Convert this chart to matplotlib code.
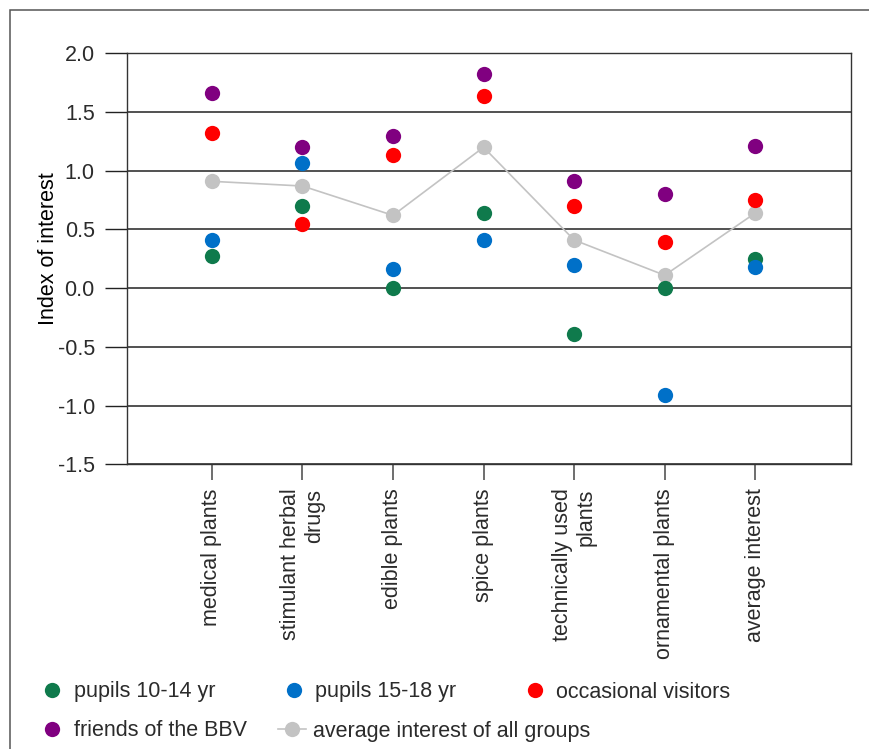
import numpy as np
import matplotlib
matplotlib.use('Agg')
import matplotlib.pyplot as plt
from matplotlib.lines import Line2D
from matplotlib.patches import Rectangle

plt.rcParams['font.family'] = ['Liberation Sans', 'DejaVu Sans']
plt.rcParams['font.size'] = 15.5
plt.rcParams['text.color'] = '#2b2b2b'

# data
categories = ['medical plants', 'stimulant herbal\ndrugs', 'edible plants', 'spice plants',
              'technically used\nplants', 'ornamental plants', 'average interest']
pupils_10_14 = [0.27, 0.70, 0.00, 0.64, -0.39, 0.00, 0.25]
pupils_15_18 = [0.41, 1.07, 0.16, 0.41, 0.20, -0.91, 0.18]
occasional = [1.32, 0.55, 1.13, 1.64, 0.70, 0.39, 0.75]
friends_bbv = [1.66, 1.20, 1.30, 1.82, 0.91, 0.80, 1.21]
avg_all = [0.91, 0.87, 0.62, 1.20, 0.41, 0.11, 0.64]

c_green = '#0f7a4c'
c_blue = '#0070c8'
c_red = '#ff0000'
c_purple = '#800080'
c_gray = '#c3c3c3'

x = np.arange(1, len(categories) + 1)

fig = plt.figure(figsize=(8.69, 7.49), dpi=100)
ax = fig.add_axes([0.1458, 0.3801, 0.8335, 0.5487])

ms = 11
ax.plot(x, avg_all, '-o', color=c_gray, lw=1.2, ms=ms, mew=0, zorder=3)
ax.plot(x, pupils_10_14, 'o', color=c_green, ms=ms, mew=0, zorder=4)
ax.plot(x, pupils_15_18, 'o', color=c_blue, ms=ms, mew=0, zorder=5)
ax.plot(x, occasional, 'o', color=c_red, ms=ms, mew=0, zorder=6)
ax.plot(x, friends_bbv, 'o', color=c_purple, ms=ms, mew=0, zorder=7)

ax.set_xlim(0.06, 8.057)
ax.set_ylim(-1.5, 2.0)
ax.set_yticks(np.arange(-1.5, 2.01, 0.5))
ax.set_yticklabels(['%.1f' % v for v in np.arange(-1.5, 2.01, 0.5)])
ax.yaxis.grid(True, color='#222222', lw=1.1)
ax.set_axisbelow(True)
ax.set_xticks(x)
ax.set_xticklabels(categories, rotation=90, multialignment='right')

for s in ax.spines.values():
    s.set_color('#333333')
    s.set_linewidth(1.0)

ax.tick_params(axis='y', direction='out', length=16, width=1.0, color='#222222',
               pad=7, labelsize=15.5, labelcolor='#2b2b2b')
ax.tick_params(axis='x', direction='out', length=11.5, width=1.2, color='#555555',
               pad=6, labelsize=15.5, labelcolor='#2b2b2b')

ax.set_ylabel('Index of interest', fontsize=15.5)
ax.yaxis.set_label_coords(-0.093, 0.526)

# outer frame
fig.add_artist(Rectangle((9.5 / 869, -0.1), 1.2, 1 - 10.5 / 749 + 0.1,
                         transform=fig.transFigure, fill=False,
                         edgecolor='#555555', lw=1.1, clip_on=False))

# legend
h_green = Line2D([], [], ls='none', marker='o', color=c_green, ms=ms, mew=0)
h_blue = Line2D([], [], ls='none', marker='o', color=c_blue, ms=ms, mew=0)
h_red = Line2D([], [], ls='none', marker='o', color=c_red, ms=ms, mew=0)
h_purple = Line2D([], [], ls='none', marker='o', color=c_purple, ms=ms, mew=0)
h_gray = Line2D([], [], ls='-', lw=1.2, marker='o', color=c_gray, ms=ms, mew=0)

leg1 = fig.legend([h_green, h_blue, h_red],
                  ['pupils 10-14 yr', 'pupils 15-18 yr', 'occasional visitors'],
                  loc='center left', bbox_to_anchor=(38 / 869, 1 - 692 / 749),
                  ncol=3, frameon=False, borderpad=0, borderaxespad=0,
                  handlelength=1.3, handletextpad=0.35, columnspacing=3.0,
                  fontsize=15.5)
leg2 = fig.legend([h_purple, h_gray],
                  ['friends of the BBV', 'average interest of all groups'],
                  loc='center left', bbox_to_anchor=(38 / 869, 1 - 731 / 749),
                  ncol=2, frameon=False, borderpad=0, borderaxespad=0,
                  handlelength=1.3, handletextpad=0.35, columnspacing=1.45,
                  fontsize=15.5)

fig.savefig('out.png', dpi=100)
